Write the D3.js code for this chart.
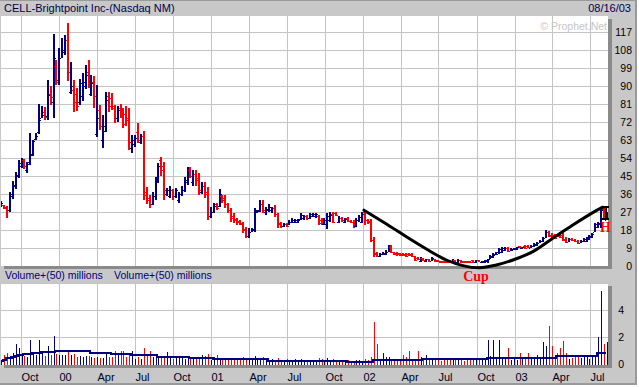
<!DOCTYPE html>
<html><head><meta charset="utf-8">
<script src="https://cdn.jsdelivr.net/npm/d3@7"></script>
<style>
html,body{margin:0;padding:0;background:#ffffff;}
svg{display:block;font-family:"Liberation Sans",Arial,sans-serif;}
</style></head><body>
<svg id="c" width="639" height="387"></svg>
<script>
// ---------------- DATA ----------------
const title = "CELL-Brightpoint Inc-(Nasdaq NM)";
const asOf = "08/16/03";
const firstWeek = "1999-08-15";   // weekly bars, one per week from here
const opens = [
30,30.5,29.5,28,35,40,45,50,53,48,
52,56,63.5,67,74,77,75,86,82,100,
93,104,107,113,87,88,86,82,85,90,
97,86,92,66,78,63,70,85,84,79,
74,79,77,76,74,59,61,67,62,65,
37,33,31,35,43,53,50,36,35,38,
35,33,36,38,42,48,42,46,44,37,
40,37,25,27,31,30,35,34,31,28,
25,23.5,22.5,21.5,18.5,15,17,18,27,28,
31,27,28,28,29,26,21.5,20,21,21,
22,22,22,23.5,24,25,24,25,25,25,
23,21,21,23,26,26.5,22,24,22,24,
22.5,22,20,23,22,27,23,22.5,13,6.5,
5,6,6,7,9.5,7,6.5,6.5,6,6,
6,6,5,4,2.5,4,2.5,3.5,2.5,3.5,
3,2.5,2.4,2.4,2.8,2,3,2,3,2.4,
2.4,2.4,2.8,2,2.8,1.8,2,2.5,3.5,4.5,
5.5,6,7,8,9.2,7.5,8,8.5,9.8,8.8,
10,10.2,9.2,10,10.5,11.5,12.5,14,17,15.5,
15.5,15.5,16.5,15.5,13.5,12,13.5,13,12.5,11.5,
12.5,12.5,13.5,14.5,17,19.5,21,28.5,23];
const highs = [
32.5,30.5,30,37,42.5,47,53,54,53.5,52,
66.5,63,66.5,81,80,79.5,93,90,116,103,
109,114,115.5,121.5,102,93,89,93.5,96.5,100.5,
103,95.5,95,90.5,80.5,75.5,87,87,86.5,80.5,
80,81,79,80,79,65.5,65.5,71.5,66,67.5,
39.5,35.5,37,44.5,51.5,54.5,52,39,40,38.5,
39,37,40,44.5,49.5,49.5,48,48,46.5,42,
42,39.5,29.5,31.5,31.5,38.5,35.5,35.5,31.5,29,
26.5,24,23,22,19.5,19,19,29,28,33,
33,29.5,31,29.5,30.5,26.5,22,21.5,21.5,23,
24,23.5,23.5,26.5,25.5,25.5,26.5,26.5,26.5,25.5,
24,24,26.5,27,27,27,25,24.5,24,24.5,
23,23,24,25.5,27,28,23.5,23.5,14.5,7,
6.5,7,8,10.5,10.5,7,7,6.5,6.5,6.5,
6.5,6.5,5,4.5,4.5,4,3.5,3.5,4.5,3.5,
3,2.5,2.5,2.5,3,3.5,3,3.5,3,2.5,
2.5,2.5,3,3,3,2.5,3,3.5,5.5,6.5,
7,9,9.5,9.5,9.5,9,9,9.5,10,9.5,
10.5,10.5,10.5,11.5,12,13,14.5,18,17.5,16.5,
16,16,17,16.5,14.5,14,14,13.5,13,13,
14,14.5,15.5,16.5,21.5,22,29.5,29.5,27];
const lows = [
29.5,28.5,24,27,33.5,38.5,44,49,48.5,46.5,
50.5,55,63,66,74,73,73,80.5,74,90.5,
90.5,104,105.5,92.5,86,77,77.5,80.5,82.5,88.5,
89,85,79,64.5,68,59,67,77,78,71.5,
72,74,69,70,58,56.5,59.5,61.5,61,33,
31,29,30.5,33,41.5,45,33,35,34,33,
34,31.5,35,37,40.5,44,40,40,35.5,36,
34,23,24,26.5,28,29.5,31.5,29,26.5,22,
21.5,20.5,20.5,16.5,14,14,17,17,26.5,27,
26.5,25.5,27,26.5,24.5,19,19,19.5,19.5,20.5,
21.5,21.5,21.5,23,23,23,23.5,24.5,24,20.5,
20.5,20.5,18.5,22,21.5,25,21.5,22,21.5,22,
21.5,19,19.5,22,21.5,20.5,21,12,4.5,4.5,
4.5,5.5,5.5,7,6.5,5.5,5,5,5,4.5,
5,4.5,2.5,3,2,2.5,2,2,2.5,2,
2,1.5,1.5,1.5,1.5,1.5,1.5,1.5,1.5,1.5,
1.5,1.5,1.5,1.5,2,1.5,1.5,1.5,3.5,4,
5.5,6,6.5,7.5,7,7.5,8,8,9,8.5,
8.5,9,9,9.5,10,11.5,12,14,14.5,14,
13.5,14.5,14,12.5,11.5,12,12.5,12,11,11.5,
12,12,13,14,17,19,19,24,23];
const closes = [
31.5,29,28,36,40.5,45.5,51.5,52,50,51,
55.5,62.5,65,73,75.5,74.5,85.5,84.5,104,92,
104,108,113,97,90,82,80,91.5,92,95.5,
92,91.5,85,74,70,67.5,83,80,80,74,
78,76,71,73,62,63,64,63,65,35.5,
34,31,35,43,50,48,38,38,38,35,
38,36,38,43,47,45,46,43,38,40,
36,25,27,30,29,36,33,31,28,24,
23,22,21,18,15,17,18.5,27,27.5,31,
28,28.5,29.5,29,26,21,20,21,20,22,
23,23,23,25.5,25,24,26,26,26,21.5,
22,23,25,25.5,22,25.5,24,23,23.5,22.5,
22,20,23,24.5,26,23,22,13,6,5,
6,6.5,7,9.5,7,6,6,5.5,5.5,5,
5.5,5,3,3.5,4,3,3.5,2.5,4,2.5,
2.2,2,1.8,1.8,2,3,2,3,2,2,
1.8,1.8,2,2.8,2.2,2.4,2.8,3.3,5,6,
6.8,8.5,9,9.2,7.5,8.5,8.8,9.3,9.2,9.3,
9,9.5,10.2,11,11.5,12.5,14,17,15,14.5,
14,15,14.5,13,12,13.5,12.8,12.3,11.5,12.5,
13.5,14,15,16,21,21.5,28,24.5,26];
// weekly volume, millions
const volumes = [
0.3,0.7,0.8,0.6,0.85,1.5,1.15,0.75,0.6,0.55,
1.75,0.8,0.7,1.8,0.8,0.6,1.35,0.65,2.05,0.75,
0.7,0.65,0.65,1.05,0.7,0.75,0.55,0.6,0.55,0.6,
0.6,0.5,0.45,0.5,0.45,0.45,0.75,0.5,0.5,1.0,
0.85,0.95,0.95,0.5,0.7,1.0,0.4,0.55,0.4,1.2,
0.7,0.95,0.5,0.55,0.5,0.45,0.55,0.9,0.55,0.4,
0.45,0.5,0.6,0.35,0.45,0.45,0.4,0.45,0.55,0.7,
0.6,0.75,0.3,0.5,0.65,0.4,0.45,0.35,0.45,0.4,
0.45,0.35,0.45,0.55,0.45,0.35,0.35,0.6,0.3,0.45,
0.5,0.35,0.3,0.35,0.3,0.45,0.3,0.25,0.35,0.25,
0.3,0.35,0.3,0.35,0.3,0.25,0.3,0.25,0.3,0.45,
0.35,0.3,0.45,0.3,0.35,0.3,0.25,0.3,0.25,0.3,
0.25,0.25,0.3,0.3,0.25,0.4,0.3,0.5,3.1,1.5,
0.4,0.85,0.55,0.5,0.3,0.35,0.3,0.35,0.7,0.5,
0.95,0.3,0.4,1.0,0.5,0.35,0.65,0.3,0.4,0.3,
0.35,0.25,0.3,0.3,0.35,0.3,0.3,0.35,0.3,0.25,
0.35,0.3,0.3,0.35,0.3,0.35,0.4,1.75,0.6,1.8,
0.45,1.8,0.5,0.4,1.2,0.3,0.45,0.3,0.85,0.45,
0.35,0.85,0.45,0.35,0.7,0.4,1.6,1.35,2.8,1.3,
0.6,0.85,1.2,1.7,0.85,0.4,0.45,0.55,0.5,0.45,
0.5,0.55,0.4,0.6,0.5,2.0,5.4,1.5,1.65];
// 50-week average volume as drawn (millions)
const volumeAvg = [
0.3,0.4,0.5,0.55,0.6,0.65,0.72,0.75,0.78,0.8,
0.85,0.87,0.9,0.92,0.93,0.95,0.96,0.98,1.0,1.02,
1.04,1.04,1.04,1.04,1.04,1.04,1.04,1.04,1.04,1.04,
1.04,0.87,0.87,0.87,0.87,0.87,0.87,0.87,0.79,0.79,
0.79,0.79,0.79,0.79,0.79,0.72,0.72,0.72,0.72,0.72,
0.72,0.72,0.72,0.72,0.62,0.62,0.62,0.62,0.62,0.62,
0.62,0.62,0.62,0.62,0.62,0.54,0.54,0.54,0.54,0.54,
0.54,0.54,0.54,0.47,0.47,0.47,0.47,0.47,0.47,0.47,
0.47,0.47,0.47,0.47,0.47,0.47,0.47,0.47,0.42,0.42,
0.42,0.42,0.3,0.3,0.3,0.3,0.3,0.3,0.3,0.3,
0.3,0.3,0.3,0.3,0.3,0.3,0.3,0.3,0.3,0.3,
0.3,0.3,0.3,0.3,0.3,0.3,0.3,0.3,0.3,0.25,
0.25,0.25,0.25,0.25,0.25,0.25,0.25,0.25,0.35,0.35,
0.35,0.35,0.35,0.35,0.35,0.35,0.35,0.35,0.35,0.35,
0.35,0.35,0.35,0.35,0.35,0.42,0.42,0.42,0.42,0.42,
0.42,0.42,0.42,0.42,0.42,0.42,0.42,0.42,0.42,0.42,
0.42,0.42,0.42,0.42,0.42,0.42,0.42,0.55,0.55,0.55,
0.55,0.55,0.55,0.55,0.55,0.55,0.5,0.5,0.5,0.5,
0.5,0.5,0.5,0.5,0.5,0.5,0.5,0.5,0.5,0.5,
0.5,0.68,0.68,0.68,0.68,0.68,0.68,0.68,0.68,0.68,
0.68,0.68,0.68,0.68,0.68,0.88,0.88,0.88,0.88];
const quarterDates = ["1999-10-01","2000-01-01","2000-04-01","2000-07-01","2000-10-01","2001-01-01","2001-04-01","2001-07-01","2001-10-01","2002-01-01","2002-04-01","2002-07-01","2002-10-01","2003-01-01","2003-04-01","2003-07-01"];
const quarterLabels = ["Oct","00","Apr","Jul","Oct","01","Apr","Jul","Oct","02","Apr","Jul","Oct","03","Apr","Jul"];
const priceTicks = [0,9,18,27,36,45,54,63,72,81,90,99,108,117];
const volumeTicks = [0,2,4];
const volumeGrid = [2,4,6];
// cup-with-handle annotation
const cupDates = ["2002-01-03","2002-02-26","2002-04-15","2002-06-02","2002-07-20","2002-08-29","2002-10-08","2002-11-17","2002-12-27","2003-02-13","2003-04-02","2003-05-20","2003-07-07","2003-07-31"];
const cupPrices = [27.9,21,14.6,8.5,3,0.2,-0.9,0.5,3,7.2,13.9,20.5,26.7,29.4];
const handleDate = "2003-08-06";
const handleTop = 29.5, handleBottom = 23.3;

// ---------------- CHART ----------------
const W = 639, H = 387;
const svg = d3.select("#c");
const parse = d3.timeParse("%Y-%m-%d");
const start = parse(firstWeek);
const bars = highs.map((h, i) => ({
  date: d3.timeWeek.offset(start, i),
  open: opens[i], high: h, low: lows[i], close: closes[i],
  vol: volumes[i], avg: volumeAvg[i]
}));

const x = d3.scaleTime().domain([parse("1999-10-01"), parse("2003-07-01")]).range([20.7, 590.3]);
const P = {x0: 1, x1: 608, y0: 16, y1: 266};
const V = {x0: 1, x1: 608, y0: 283, y1: 365};
const yP = d3.scaleLinear().domain([0, 125]).range([266, 16]);
const yV = d3.scaleLinear().domain([0, 6]).range([364, 283]);

const NAVY = "#000080", RED = "#ff0000", GRID = "#c4c4c4", BG = "#c8c8c8", SHADOW = "#8a8a8a";

// background frame
svg.append("rect").attr("width", W).attr("height", H).attr("fill", "#ffffff");
svg.append("rect").attr("x", 0).attr("y", 0).attr("width", 636).attr("height", 384).attr("fill", BG);
svg.append("rect").attr("x", 0).attr("y", 0).attr("width", 636).attr("height", 1).attr("fill", "#9a9a9a");
svg.append("rect").attr("x", 635).attr("y", 0).attr("width", 2).attr("height", 385).attr("fill", "#9a9a9a");
svg.append("rect").attr("x", 0).attr("y", 383).attr("width", 637).attr("height", 2).attr("fill", "#9a9a9a");

// title
svg.append("text").attr("x", 4).attr("y", 12).attr("font-size", 11).attr("fill", "#000050").text(title);
svg.append("text").attr("x", 631).attr("y", 12).attr("font-size", 11).attr("text-anchor", "end").attr("fill", "#000050").text(asOf);

// panels with shadow
function panel(r) {
  svg.append("rect").attr("x", r.x0 + 3).attr("y", r.y0 + 3).attr("width", r.x1 - r.x0 + 1).attr("height", r.y1 - r.y0).attr("fill", SHADOW);
  svg.append("rect").attr("x", r.x0).attr("y", r.y0).attr("width", r.x1 - r.x0).attr("height", r.y1 - r.y0).attr("fill", "#ffffff");
}
panel(P); panel(V);

svg.append("defs").html(
  `<clipPath id="cp"><rect x="${P.x0}" y="${P.y0}" width="${P.x1-P.x0}" height="${P.y1-P.y0}"/></clipPath>` +
  `<clipPath id="cv"><rect x="${V.x0}" y="${V.y0}" width="${V.x1-V.x0}" height="${V.y1-V.y0}"/></clipPath>`);

const qDates = quarterDates.map(parse);
// grids - price
const gP = svg.append("g").attr("clip-path", "url(#cp)").attr("shape-rendering", "crispEdges");
gP.selectAll("line.v").data(qDates).join("line")
  .attr("x1", d => Math.round(x(d)) + 0.5).attr("x2", d => Math.round(x(d)) + 0.5)
  .attr("y1", P.y0).attr("y2", P.y1).attr("stroke", GRID);
gP.selectAll("line.h").data(priceTicks.filter(t => t > 0)).join("line")
  .attr("x1", P.x0).attr("x2", P.x1)
  .attr("y1", d => Math.round(yP(d)) + 0.5).attr("y2", d => Math.round(yP(d)) + 0.5).attr("stroke", GRID);

// grids - volume
const gV = svg.append("g").attr("clip-path", "url(#cv)").attr("shape-rendering", "crispEdges");
gV.selectAll("line.v").data(qDates).join("line")
  .attr("x1", d => Math.round(x(d)) + 0.5).attr("x2", d => Math.round(x(d)) + 0.5)
  .attr("y1", V.y0).attr("y2", V.y1).attr("stroke", GRID);
gV.selectAll("line.h").data(volumeGrid).join("line")
  .attr("x1", V.x0).attr("x2", V.x1)
  .attr("y1", d => Math.round(yV(d)) + 0.5).attr("y2", d => Math.round(yV(d)) + 0.5).attr("stroke", GRID);

// price bars (OHLC)
const col = d => d.close >= d.open ? NAVY : RED;
const pb = gP.selectAll("g.bar").data(bars).join("g").attr("fill", col);
pb.append("rect")
  .attr("x", d => Math.round(x(d.date)) - 1).attr("width", 2)
  .attr("y", d => Math.round(yP(d.high)))
  .attr("height", d => Math.max(1, Math.round(yP(d.low)) - Math.round(yP(d.high))));
pb.append("rect")
  .attr("x", d => Math.round(x(d.date)) - 2).attr("width", 1)
  .attr("y", d => Math.round(yP(d.open))).attr("height", 1);
pb.append("rect")
  .attr("x", d => Math.round(x(d.date)) + 1).attr("width", 1)
  .attr("y", d => Math.round(yP(d.close))).attr("height", 1);

// volume bars
gV.selectAll("rect.vb").data(bars).join("rect")
  .attr("x", d => Math.round(x(d.date))).attr("width", 1)
  .attr("y", d => Math.round(yV(d.vol)))
  .attr("height", d => Math.round(yV(0)) - Math.round(yV(d.vol)) + 2)
  .attr("fill", col);
gV.append("path").datum(bars)
  .attr("d", d3.line().x(d => Math.round(x(d.date)) - 1).y(d => Math.round(yV(d.avg)) + 0.5).curve(d3.curveStepAfter))
  .attr("fill", "none").attr("stroke", NAVY).attr("stroke-width", 2);

// watermark
svg.append("text").attr("x", 607).attr("y", 30).attr("font-size", 10.5).attr("text-anchor", "end")
  .attr("fill", "#c6c6c6").text("\u00A9 Prophet.Net");

// right axis labels
svg.append("g").selectAll("text").data(priceTicks).join("text")
  .attr("x", 632).attr("y", d => yP(d)).attr("dy", "0.36em").attr("text-anchor", "end")
  .attr("font-size", 10.5).attr("fill", "#000").text(d => d);
svg.append("g").selectAll("text").data(volumeTicks).join("text")
  .attr("x", 624).attr("y", d => yV(d)).attr("dy", "0.36em").attr("text-anchor", "end")
  .attr("font-size", 10.5).attr("fill", "#000").text(d => d);

// bottom axis labels
svg.append("g").selectAll("text").data(qDates).join("text")
  .attr("x", d => Math.round(x(d)) + 0.5).attr("y", 381)
  .attr("font-size", 11).attr("fill", "#000020").text((d, i) => quarterLabels[i]);

// volume labels
svg.append("text").attr("x", 5).attr("y", 279).attr("font-size", 10.5).attr("fill", NAVY).text("Volume+(50) millions");
svg.append("text").attr("x", 114).attr("y", 279).attr("font-size", 10.5).attr("fill", NAVY).text("Volume+(50) millions");

// cup & handle annotation
const cup = cupDates.map((d, i) => [x(parse(d)), yP(cupPrices[i])]);
svg.append("path").attr("d", d3.line().curve(d3.curveCatmullRom)(cup))
  .attr("fill", "none").attr("stroke", "#000").attr("stroke-width", 3).attr("stroke-linecap", "round");
const hx = Math.round(x(parse(handleDate))) + 0.5;
const gH = svg.append("g").attr("stroke", "#000").attr("stroke-width", 2).attr("shape-rendering", "crispEdges");
gH.append("line").attr("x1", hx).attr("x2", hx).attr("y1", yP(handleTop)).attr("y2", yP(handleBottom));
gH.append("line").attr("x1", hx - 3.5).attr("x2", hx + 3.5).attr("y1", yP(handleTop)).attr("y2", yP(handleTop));
gH.append("line").attr("x1", hx - 3.5).attr("x2", hx + 3.5).attr("y1", yP(handleBottom)).attr("y2", yP(handleBottom));
svg.append("text").attr("x", 605.5).attr("y", 231.5).attr("text-anchor", "middle")
  .attr("font-family", "'Liberation Serif','Times New Roman',serif").attr("font-weight", "bold")
  .attr("font-size", 14).attr("fill", RED).text("H");
svg.append("text").attr("x", 476).attr("y", 281).attr("text-anchor", "middle")
  .attr("font-family", "'Liberation Serif','Times New Roman',serif").attr("font-weight", "bold")
  .attr("font-size", 14).attr("fill", RED).text("Cup");
</script>
</body></html>
